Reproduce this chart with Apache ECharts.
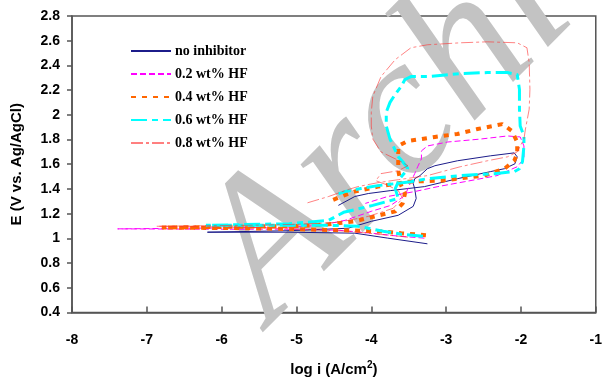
<!DOCTYPE html>
<html>
<head>
<meta charset="utf-8">
<script src="https://cdn.jsdelivr.net/npm/echarts@6/dist/echarts.min.js"></script>
<style>
html,body{margin:0;padding:0;background:#fff;}
#chart{width:605px;height:382px;}
</style>
</head>
<body>
<div id="chart"></div>
<script>
// ---- data (log i [A/cm2], E [V vs Ag/AgCl]) in scan-path order ----
var seriesNames = ['no inhibitor', '0.2 wt% HF', '0.4 wt% HF', '0.6 wt% HF', '0.8 wt% HF'];
var xTicks = [-8, -7, -6, -5, -4, -3, -2, -1];
var yTicks = [0.4, 0.6, 0.8, 1, 1.2, 1.4, 1.6, 1.8, 2, 2.2, 2.4, 2.6, 2.8];

var noInhibitor = [
  [-3.25,0.956],[-3.78,1.002],[-4.22,1.042],[-5.10,1.050],[-6.19,1.050],
  [-5.10,1.062],[-4.31,1.082],[-4.00,1.138],[-3.64,1.187],[-3.44,1.259],[-3.40,1.323],
  [-3.42,1.403],[-3.44,1.443],[-3.42,1.483],[-3.35,1.508],[-3.25,1.564],[-3.15,1.588],
  [-2.85,1.628],[-2.41,1.668],[-2.09,1.692],[-2.05,1.660],[-2.08,1.604],[-2.22,1.564],
  [-2.41,1.540],[-2.85,1.483],[-3.29,1.419],[-3.74,1.387],[-4.04,1.363],[-4.22,1.339],[-4.44,1.267]
];
var hf02 = [
  [-3.29,1.002],[-3.64,1.018],[-4.00,1.042],[-4.44,1.066],[-5.10,1.074],[-5.90,1.074],[-7.39,1.077],
  [-5.90,1.085],[-5.10,1.090],[-4.67,1.106],[-4.35,1.146],[-4.00,1.219],[-3.74,1.267],[-3.55,1.347],
  [-3.51,1.403],[-3.47,1.459],[-3.42,1.524],[-3.38,1.580],[-3.33,1.644],[-3.33,1.708],[-3.25,1.748],
  [-2.98,1.780],[-2.54,1.804],[-2.18,1.829],[-2.01,1.821],[-1.96,1.748],[-1.96,1.644],[-2.05,1.580],
  [-2.32,1.508],[-2.75,1.459],[-3.11,1.419],[-3.42,1.379],[-3.78,1.339],[-4.08,1.283]
];
var hf04 = [
  [-3.27,1.026],[-3.60,1.042],[-3.91,1.058],[-4.40,1.066],[-4.97,1.074],[-5.64,1.082],[-6.80,1.088],
  [-5.64,1.095],[-4.97,1.100],[-4.57,1.114],[-4.22,1.138],[-3.95,1.178],[-3.68,1.219],[-3.58,1.283],
  [-3.55,1.363],[-3.60,1.427],[-3.64,1.550],[-3.64,1.684],[-3.64,1.748],[-3.51,1.788],[-3.15,1.821],
  [-2.85,1.845],[-2.58,1.885],[-2.25,1.925],[-2.12,1.869],[-2.05,1.780],[-2.05,1.684],[-2.09,1.628],
  [-2.22,1.564],[-2.49,1.508],[-2.85,1.483],[-3.07,1.467],[-3.51,1.459],[-3.91,1.419],[-4.22,1.379],
  [-4.37,1.347],[-4.53,1.307]
];
var hf06 = [
  [-3.31,1.018],[-3.60,1.034],[-3.84,1.058],[-4.18,1.098],[-4.57,1.106],[-5.10,1.106],[-6.21,1.106],
  [-5.10,1.118],[-4.57,1.146],[-4.37,1.211],[-3.98,1.267],[-3.64,1.323],[-3.68,1.403],[-3.62,1.483],
  [-3.51,1.564],[-3.58,1.620],[-3.64,1.660],[-3.75,1.804],[-3.80,1.909],[-3.80,2.021],[-3.75,2.101],
  [-3.68,2.166],[-3.60,2.230],[-3.55,2.286],[-3.47,2.310],[-3.25,2.310],[-2.81,2.334],[-2.45,2.342],
  [-2.18,2.342],[-2.05,2.326],[-2.02,2.206],[-2.02,2.045],[-2.01,1.909],[-1.96,1.829],[-1.96,1.748],
  [-1.98,1.620],[-2.02,1.564],[-2.09,1.540],[-2.36,1.524],[-2.81,1.508],[-3.25,1.483],[-3.47,1.459],
  [-3.68,1.443],[-3.91,1.427],[-4.14,1.403],[-4.35,1.379],[-4.44,1.360]
];
var hf08 = [
  [-3.51,1.010],[-3.91,1.034],[-4.31,1.058],[-4.97,1.074],[-5.64,1.090],[-6.87,1.098],
  [-5.64,1.106],[-4.97,1.114],[-4.44,1.130],[-4.04,1.178],[-3.71,1.243],[-3.58,1.323],[-3.64,1.387],
  [-3.80,1.435],[-3.94,1.467],[-3.87,1.524],[-3.64,1.548],[-3.51,1.588],[-3.60,1.620],[-3.87,1.700],
  [-3.98,1.804],[-4.00,1.909],[-4.00,2.021],[-3.98,2.150],[-3.87,2.310],[-3.68,2.447],[-3.47,2.543],
  [-3.25,2.567],[-2.81,2.583],[-2.45,2.591],[-2.05,2.583],[-1.92,2.543],[-1.89,2.422],[-1.88,2.206],
  [-1.89,2.045],[-1.94,1.885],[-1.96,1.804],[-2.05,1.700],[-2.18,1.660],[-2.45,1.628],[-2.81,1.580],
  [-3.25,1.508],[-3.64,1.475],[-3.91,1.451],[-4.18,1.419],[-4.31,1.395],[-4.57,1.339],[-4.88,1.283]
];

var chart = echarts.init(document.getElementById('chart'), null, {renderer: 'canvas'});

var lbl = {fontFamily: '"Liberation Sans", Arial, sans-serif', fontWeight: 'bold', fontSize: 14, color: '#000'};

function mk(name, data, color, width, dash, opacity) {
  return {
    name: name, type: 'line', data: data, symbol: 'none', smooth: false,
    clip: true, z: 5, animation: false,
    lineStyle: {color: color, width: width, type: dash, opacity: opacity == null ? 1 : opacity},
    itemStyle: {color: color}
  };
}

var legendData = seriesNames.map(function (n, i) {
  return i === 4 ? {name: n, lineStyle: {opacity: 1, color: '#ff0000', width: 1, type: [12, 3, 3, 3]}} : {name: n};
});

chart.setOption({
  animation: false,
  backgroundColor: '#fff',
  grid: {left: 72, right: 6, top: 16, bottom: 67, show: true, borderColor: '#555', borderWidth: 1.5, containLabel: false},
  graphic: [{
    type: 'text', x: 304, y: 358, rotation: Math.PI / 4, z: 1, silent: true,
    style: {text: 'Archive', font: 'italic 200px "Liberation Serif"', fill: '#c3c3c3',
            textAlign: 'left', textVerticalAlign: 'bottom'}
  }],
  legend: {
    orient: 'vertical', left: 130, top: 44, padding: 0, itemWidth: 40, itemHeight: 12, itemGap: 9,
    data: legendData,
    itemStyle: {opacity: 0},
    textStyle: {fontFamily: '"Liberation Serif", "Times New Roman", serif', fontWeight: 'bold', fontSize: 14, color: '#000', padding: [0,0,0,-1]}
  },
  xAxis: {
    type: 'value', min: xTicks[0], max: xTicks[xTicks.length - 1], interval: 1,
    name: '{a|log i (A/cm}{s|2}{a|)}', nameLocation: 'middle', nameGap: 48,
    nameTextStyle: {rich: {
      a: {fontFamily: '"Liberation Sans", Arial, sans-serif', fontWeight: 'bold', fontSize: 15, color: '#000'},
      s: {fontFamily: '"Liberation Sans", Arial, sans-serif', fontWeight: 'bold', fontSize: 10, color: '#000', verticalAlign: 'top', padding: [0,0,8,0]}
    }},
    axisLine: {show: true, onZero: false, lineStyle: {color: '#555', width: 1.5}},
    axisTick: {show: true, inside: true, length: 6, lineStyle: {color: '#555', width: 1.5}},
    axisLabel: Object.assign({margin: 21}, lbl),
    splitLine: {show: false}
  },
  yAxis: {
    type: 'value', min: yTicks[0], max: yTicks[yTicks.length - 1], interval: 0.2,
    name: 'E (V vs. Ag/AgCl)', nameLocation: 'middle', nameGap: 48, nameRotate: 90,
    nameTextStyle: {fontFamily: '"Liberation Sans", Arial, sans-serif', fontWeight: 'bold', fontSize: 15, color: '#000'},
    axisLine: {show: true, onZero: false, lineStyle: {color: '#555', width: 1.5}},
    axisTick: {show: true, inside: false, length: 5, lineStyle: {color: '#555', width: 1.5}},
    axisLabel: Object.assign({margin: 12}, lbl),
    splitLine: {show: false}
  },
  series: [
    mk(seriesNames[0], noInhibitor, '#1c1c8a', 1, 'solid'),
    mk(seriesNames[1], hf02, '#ff00ff', 1, [6, 3]),
    mk(seriesNames[2], hf04, '#ff6600', 4, [5, 6]),
    mk(seriesNames[3], hf06, '#00ffff', 3, [16, 5, 6, 5]),
    mk(seriesNames[4], hf08, '#ff3030', 1, [12, 3, 3, 3], 0.6)
  ]
});
</script>
</body>
</html>
